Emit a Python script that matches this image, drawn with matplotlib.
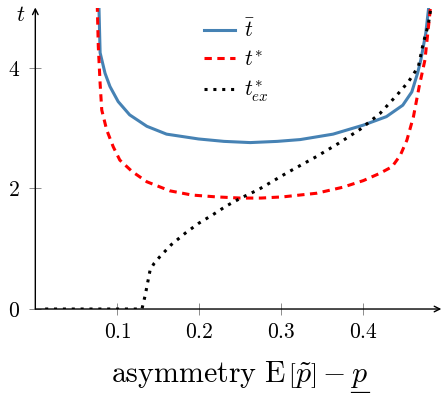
import numpy as np
import matplotlib
matplotlib.use("Agg")
import matplotlib.pyplot as plt
from matplotlib.ticker import FuncFormatter
from matplotlib.lines import Line2D

plt.rcParams['mathtext.fontset'] = 'cm'
plt.rcParams['font.family'] = 'serif'
plt.rcParams['font.serif'] = ['cmr10', 'DejaVu Serif']
plt.rcParams['axes.formatter.use_mathtext'] = True

# t bar (blue solid)
x_bar = [0.0775, 0.0790, 0.085, 0.091, 0.101, 0.115, 0.136, 0.160, 0.199, 0.230,
         0.262, 0.295, 0.323, 0.363, 0.400, 0.428, 0.448, 0.459, 0.466, 0.470,
         0.476, 0.480]
t_bar = [5.05, 4.25, 3.91, 3.69, 3.44, 3.22, 3.03, 2.90, 2.82, 2.78,
         2.76, 2.78, 2.81, 2.90, 3.05, 3.19, 3.38, 3.60, 3.91, 4.13,
         4.57, 5.05]

# t* (red dashed)
x_star = [0.0755, 0.0768, 0.079, 0.081, 0.087, 0.095, 0.103, 0.118, 0.136, 0.164,
          0.191, 0.220, 0.250, 0.275, 0.302, 0.343, 0.375, 0.400, 0.420, 0.435,
          0.445, 0.453, 0.461, 0.468, 0.475, 0.481, 0.482]
t_star = [5.05, 4.35, 3.74, 3.30, 2.97, 2.69, 2.47, 2.28, 2.11, 1.96,
          1.89, 1.86, 1.84, 1.84, 1.86, 1.92, 2.02, 2.13, 2.25, 2.36,
          2.55, 2.80, 3.19, 3.69, 4.13, 4.90, 5.05]

# t*_ex (black dotted)
x_ex = [0.012, 0.130, 0.134, 0.136, 0.138, 0.140, 0.145, 0.152, 0.166, 0.183,
        0.199, 0.216, 0.233, 0.252, 0.272, 0.307, 0.343, 0.370, 0.396, 0.420,
        0.441, 0.455, 0.467, 0.473, 0.479, 0.482]
t_ex = [0.0, 0.0, 0.23, 0.37, 0.51, 0.65, 0.76, 0.87, 1.07, 1.26,
        1.42, 1.56, 1.71, 1.85, 1.98, 2.26, 2.53, 2.75, 2.98, 3.24,
        3.55, 3.77, 4.02, 4.41, 4.71, 4.97]

x_ticks = [0.1, 0.2, 0.3, 0.4]
y_ticks = [0, 2, 4]

fig = plt.figure(figsize=(4.42, 3.93), dpi=100)
ax = fig.add_axes([0.0799, 0.2137, 0.9186, 0.7672])

ax.plot(x_bar, t_bar, color='#4682B4', lw=2.2, label=r'$\bar{t}$')
ax.plot(x_star, t_star, color='red', lw=2.2, dashes=(2.4, 1.8), label=r'$t^{*}$')
ax.plot(x_ex, t_ex, color='black', lw=2.2, dashes=(1.0, 1.9),
        dash_capstyle='butt', label=r'$t^{*}_{ex}$')

ax.set_xlim(0, 0.495)
ax.set_ylim(0, 5.0)
ax.set_xticks(x_ticks)
ax.set_yticks(y_ticks)
ax.xaxis.set_major_formatter(FuncFormatter(lambda v, p: '$%.1f$' % v))
ax.yaxis.set_major_formatter(FuncFormatter(lambda v, p: '$%d$' % v))
ax.tick_params(direction='inout', length=8, width=0.7, color='0.55',
               labelsize=15.5)
ax.tick_params(axis='x', pad=6)
ax.tick_params(axis='y', pad=7)

for s in ax.spines.values():
    s.set_visible(False)
arrow = dict(arrowstyle='->', lw=1.0, color='black', shrinkA=0, shrinkB=0)
ax.annotate('', xy=(1.0, 0), xytext=(0, 0), xycoords='axes fraction',
            arrowprops=arrow, annotation_clip=False)
ax.annotate('', xy=(0, 1.0), xytext=(0, 0), xycoords='axes fraction',
            arrowprops=arrow, annotation_clip=False)

fig.text(21 / 442, 1 - 15 / 393, r'$t$', fontsize=16, ha='center', va='center')

# x label; mathtext has no \underline, so the bar under p is drawn by hand
label_size = 21.5
lab = fig.text(240 / 442, 1 - 374 / 393,
               r'$\mathrm{asymmetry\ E}\,\left[\tilde{p}\right]-p$',
               fontsize=label_size, ha='center', va='center')
tmp = fig.text(0, 0, r'$p$', fontsize=label_size)
fig.canvas.draw()
r = fig.canvas.get_renderer()
bb = lab.get_window_extent(r)
pw = tmp.get_window_extent(r).width
tmp.remove()
W, H = fig.bbox.width, fig.bbox.height
fig.add_artist(Line2D([(bb.x1 - pw) / W, bb.x1 / W], [(bb.y0 - 2) / H] * 2,
                      transform=fig.transFigure, color='black', lw=0.9))

ax.legend(loc='upper left', bbox_to_anchor=(204 / 442, 1 - 19 / 393),
          bbox_transform=fig.transFigure, frameon=False, fontsize=15.5,
          handlelength=1.45, handletextpad=0.4, labelspacing=0.4,
          borderpad=0, borderaxespad=0)

fig.savefig('out.png', dpi=100)
